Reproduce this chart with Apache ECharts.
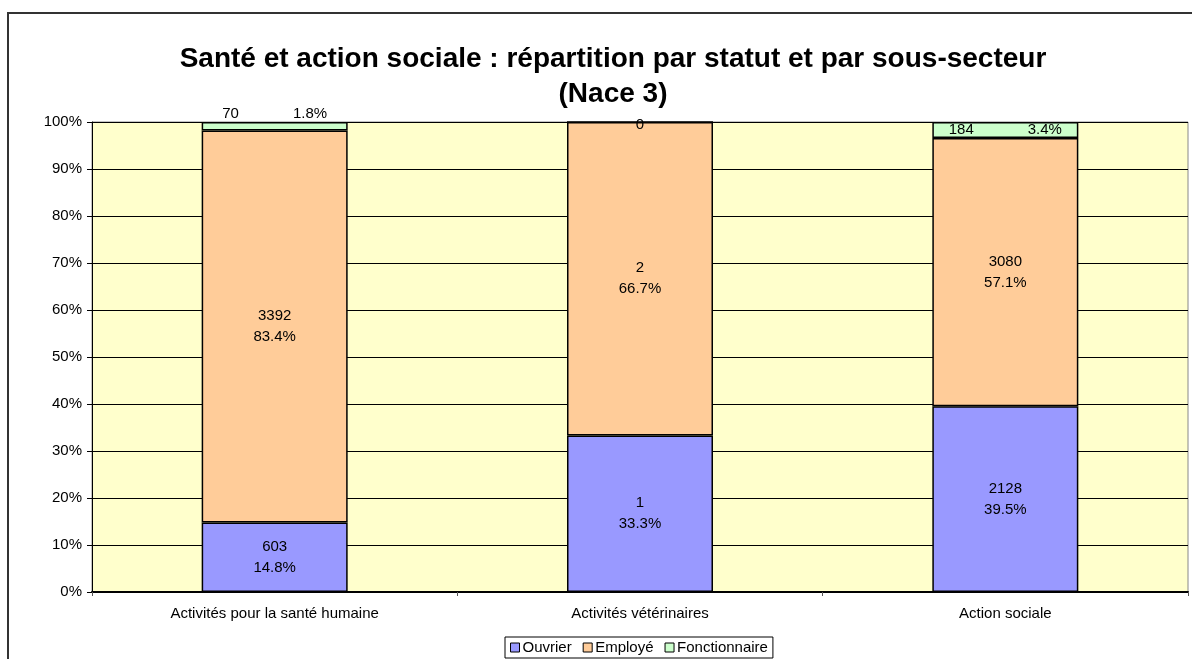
<!DOCTYPE html>
<html>
<head>
<meta charset="utf-8">
<script src="https://cdn.jsdelivr.net/npm/echarts@6/dist/echarts.min.js"></script>
<style>
html, body { margin: 0; padding: 0; background: #fff; }
#chart { width: 1192px; height: 659px; }
</style>
</head>
<body>
<div id="chart"></div>
<script>
// categories (Nace 3)
var categories = ['Activités pour la santé humaine', 'Activités vétérinaires', 'Action sociale'];

// effectifs
var ouvrierCount = [603, 1, 2128];
var employeCount = [3392, 2, 3080];
var fonctCount = [70, 0, 184];

// parts en %
var ouvrierPct = [14.8, 33.3, 39.5];
var employePct = [83.4, 66.7, 57.1];
var fonctPct = [1.8, 0, 3.4];

var yTicks = [0, 10, 20, 30, 40, 50, 60, 70, 80, 90, 100];

var font = 'Liberation Sans, Arial, sans-serif';

function twoLine(counts, pcts) {
    return function(p) {
        return counts[p.dataIndex] + '\n' + pcts[p.dataIndex].toFixed(1) + '%';
    };
}

var fonctData = [];
for (var i = 0; i < categories.length; i++) {
    var item = {value: fonctPct[i]};
    if (fonctCount[i] == 0) {
        item.label = {position: 'insideTop', offset: [0, -9], formatter: '' + fonctCount[i]};
    } else if (fonctPct[i] < 3) {
        item.label = {position: 'top', distance: 1};
    } else {
        item.label = {position: 'inside'};
    }
    fonctData.push(item);
}

var myChart = echarts.init(document.getElementById('chart'));
var option = {
    animation: false,
    textStyle: {fontFamily: font},
    title: {
        text: 'Santé et action sociale : répartition par statut et par sous-secteur\n(Nace 3)',
        left: 608,
        textAlign: 'center',
        top: 37,
        textStyle: {fontSize: 28, fontWeight: 'bold', color: '#000', lineHeight: 35, fontFamily: font}
    },
    legend: {
        bottom: 1,
        left: 505,
        itemWidth: 9,
        itemHeight: 9,
        itemGap: 11,
        padding: [3, 5, 3, 5],
        borderColor: '#000',
        borderWidth: 1,
        borderRadius: 0,
        textStyle: {fontSize: 15, color: '#000', padding: [0, 0, 0, -2]},
        data: [
            {name: 'Ouvrier', icon: 'rect', itemStyle: {borderColor: '#000', borderWidth: 1}},
            {name: 'Employé', icon: 'rect', itemStyle: {borderColor: '#000', borderWidth: 1}},
            {name: 'Fonctionnaire', icon: 'rect', itemStyle: {borderColor: '#000', borderWidth: 1}}
        ]
    },
    graphic: [{
        type: 'rect',
        shape: {x: 8, y: 13, width: 1300, height: 800},
        style: {fill: 'none', stroke: '#333', lineWidth: 2},
        z: 100
    }],
    grid: {
        left: 92, right: 4, top: 122, bottom: 67,
        show: true,
        backgroundColor: '#FFFFCC',
        borderColor: '#888',
        borderWidth: 1
    },
    xAxis: {
        type: 'category',
        data: categories,
        axisLine: {lineStyle: {color: '#000', width: 2}},
        axisTick: {show: true, alignWithLabel: false, length: 4, lineStyle: {color: '#555'}},
        axisLabel: {fontSize: 15, color: '#000', margin: 14}
    },
    yAxis: {
        type: 'value',
        min: 0,
        max: 100,
        interval: 10,
        axisLine: {show: true, lineStyle: {color: '#000'}},
        axisTick: {show: true, length: 5, lineStyle: {color: '#000'}},
        axisLabel: {fontSize: 15, color: '#000', margin: 10, formatter: function(v) {
            return yTicks.indexOf(v) >= 0 ? v + '%' : '';
        }},
        splitLine: {lineStyle: {color: '#000', width: 1}}
    },
    series: [
        {
            name: 'Ouvrier', type: 'bar', stack: 's', barWidth: 146,
            data: ouvrierPct,
            itemStyle: {color: '#9999FF', borderColor: '#000', borderWidth: 1.5},
            label: {show: true, position: 'inside', color: '#000', fontSize: 15, lineHeight: 21,
                formatter: twoLine(ouvrierCount, ouvrierPct)}
        },
        {
            name: 'Employé', type: 'bar', stack: 's', barWidth: 146,
            data: employePct,
            itemStyle: {color: '#FFCC99', borderColor: '#000', borderWidth: 1.5},
            label: {show: true, position: 'inside', color: '#000', fontSize: 15, lineHeight: 21,
                formatter: twoLine(employeCount, employePct)}
        },
        {
            name: 'Fonctionnaire', type: 'bar', stack: 's', barWidth: 146,
            data: fonctData,
            itemStyle: {color: '#CCFFCC', borderColor: '#000', borderWidth: 1.5},
            label: {show: true, color: '#000', fontSize: 15,
                formatter: function(p) {
                    return '{a|' + fonctCount[p.dataIndex] + '}{b|' + fonctPct[p.dataIndex].toFixed(1) + '%}';
                },
                rich: {
                    a: {padding: [0, 54, 0, 0], fontSize: 15, color: '#000'},
                    b: {fontSize: 15, color: '#000'}
                }
            }
        }
    ]
};
myChart.setOption(option);
</script>
</body>
</html>
